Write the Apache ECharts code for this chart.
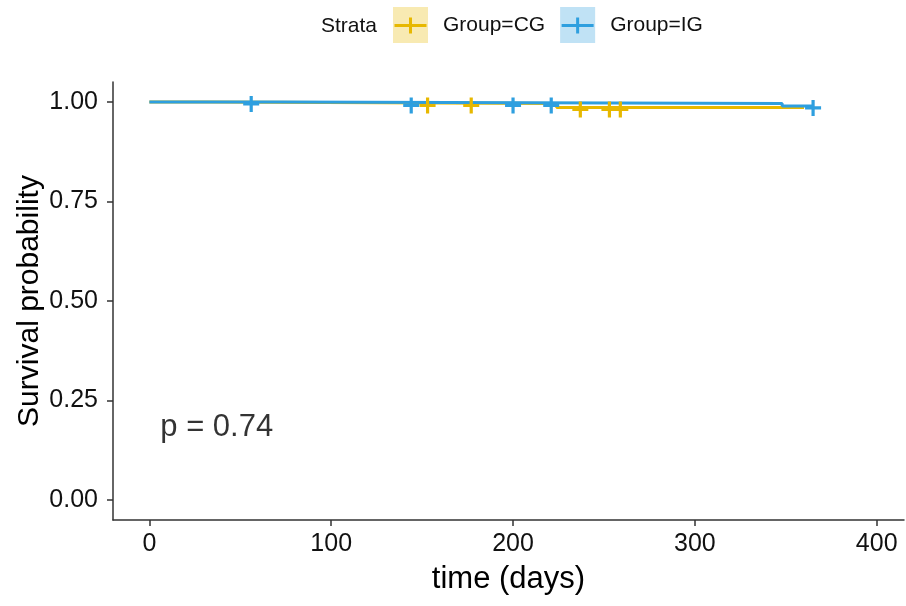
<!DOCTYPE html>
<html>
<head>
<meta charset="utf-8">
<script src="https://cdn.jsdelivr.net/npm/echarts@6.0.0/dist/echarts.min.js"></script>
<style>
  html, body { margin: 0; padding: 0; background: #fff; }
  #main { width: 906px; height: 606px; }
</style>
</head>
<body>
<div id="main"></div>
<script>
// survival steps
var cgTime = [0, 32, 224, 360]
var cgSurv = [1, 0.996, 0.986, 0.986]
var cgCensorTime = [153, 177, 237, 253, 259]
var cgCensorSurv = [0.996, 0.996, 0.986, 0.986, 0.986]

var igTime = [0, 72, 348, 365]
var igSurv = [1, 0.996, 0.99, 0.99]
var igCensorTime = [56, 144, 200, 221, 365]
var igCensorSurv = [1, 0.996, 0.996, 0.996, 0.99]

var xTicks = [0, 100, 200, 300, 400]
var yTicks = [0, 0.25, 0.5, 0.75, 1]
var groups = ['Group=CG', 'Group=IG']
var pvalText = 'p = 0.74'
var pvalCoord = [6, 0.183]

var colCG = '#E7B800'
var colIG = '#2E9FDF'
var font = "'Liberation Sans', Arial, sans-serif"
var plus = 'path://M4,0H6V4H10V6H6V10H4V6H0V4H4Z'
var legendPlus = 'path://M0,6.5H14.5V0H17.5V6.5H32V9.5H17.5V16H14.5V9.5H0Z'

function pairs(xs, ys){
  var out = []
  for (var i = 0; i < xs.length; i++) out.push([xs[i], ys[i]])
  return out
}

var myChart = echarts.init(document.getElementById('main'))

var axisText = { color: '#111', fontSize: 25, fontFamily: font }

option = {
  backgroundColor: '#fff',
  animation: false,
  title: {
    text: 'Strata', left: 321, top: 16, padding: 0,
    textStyle: { fontSize: 21, fontWeight: 'normal', color: '#111', fontFamily: font }
  },
  legend: [
    {
      data: [
        { name: groups[0], itemStyle: { color: 'rgba(231,184,0,0.3)', borderWidth: 0 } },
        { name: groups[1], itemStyle: { color: 'rgba(46,159,223,0.3)', borderWidth: 0 } }
      ],
      left: 393, top: 7, padding: 0,
      icon: 'rect', itemWidth: 35, itemHeight: 36, itemGap: 15,
      selectedMode: false,
      textStyle: { fontSize: 21, color: '#111', fontFamily: font, padding: [0, 0, 0, 10] }
    },
    {
      data: [
        { name: groups[0], itemStyle: { color: colCG, borderWidth: 0 } },
        { name: groups[1], itemStyle: { color: colIG, borderWidth: 0 } }
      ],
      left: 394.5, top: 15, padding: 0,
      icon: legendPlus, itemWidth: 32, itemHeight: 16, itemGap: 18,
      selectedMode: false,
      textStyle: { fontSize: 21, color: 'rgba(0,0,0,0)', fontFamily: font, padding: [0, 0, 0, 10] }
    }
  ],
  grid: { left: 113, right: 2, top: 82, bottom: 86 },
  xAxis: {
    type: 'value', min: -20, max: 415,
    name: 'time (days)', nameLocation: 'middle', nameGap: 44, nameMoveOverlap: false,
    nameTextStyle: { color: '#000', fontSize: 31, fontFamily: font },
    axisLine: { show: true, onZero: false, lineStyle: { color: '#333', width: 1.5 } },
    axisTick: { show: true, length: 6, customValues: xTicks, lineStyle: { color: '#333', width: 1.5 } },
    axisLabel: Object.assign({ customValues: xTicks, margin: 12 }, axisText),
    splitLine: { show: false }
  },
  yAxis: {
    type: 'value', min: -0.05, max: 1.05,
    name: 'Survival probability', nameLocation: 'middle', nameGap: 68, nameMoveOverlap: false,
    nameTextStyle: { color: '#000', fontSize: 30, fontFamily: font },
    axisLine: { show: true, onZero: false, lineStyle: { color: '#333', width: 1.5 } },
    axisTick: { show: true, length: 6, customValues: yTicks, lineStyle: { color: '#333', width: 1.5 } },
    axisLabel: Object.assign({ customValues: yTicks, margin: 15, formatter: function(v){ return v.toFixed(2) } }, axisText),
    splitLine: { show: false }
  },
  series: [
    {
      name: groups[0], type: 'line', step: 'end', showSymbol: false,
      data: pairs(cgTime, cgSurv),
      itemStyle: { color: colCG },
      lineStyle: { color: colCG, width: 3 }, z: 2
    },
    {
      name: groups[1], type: 'line', step: 'end', showSymbol: false,
      data: pairs(igTime, igSurv),
      itemStyle: { color: colIG },
      lineStyle: { color: colIG, width: 3 }, z: 3
    },
    {
      name: groups[0], type: 'scatter', symbol: plus, symbolSize: 16, symbolOffset: [0, 2],
      data: pairs(cgCensorTime, cgCensorSurv),
      itemStyle: { color: colCG, opacity: 1 }, z: 4
    },
    {
      name: groups[1], type: 'scatter', symbol: plus, symbolSize: 16, symbolOffset: [0, 2],
      data: pairs(igCensorTime, igCensorSurv),
      itemStyle: { color: colIG, opacity: 1 }, z: 5
    },
    {
      name: 'pval', type: 'scatter', symbolSize: 0,
      data: [pvalCoord],
      label: {
        show: true, position: 'right', distance: 0,
        formatter: pvalText,
        fontSize: 31, color: '#000', fontFamily: font
      }
    }
  ]
}
myChart.setOption(option)
</script>
</body>
</html>
